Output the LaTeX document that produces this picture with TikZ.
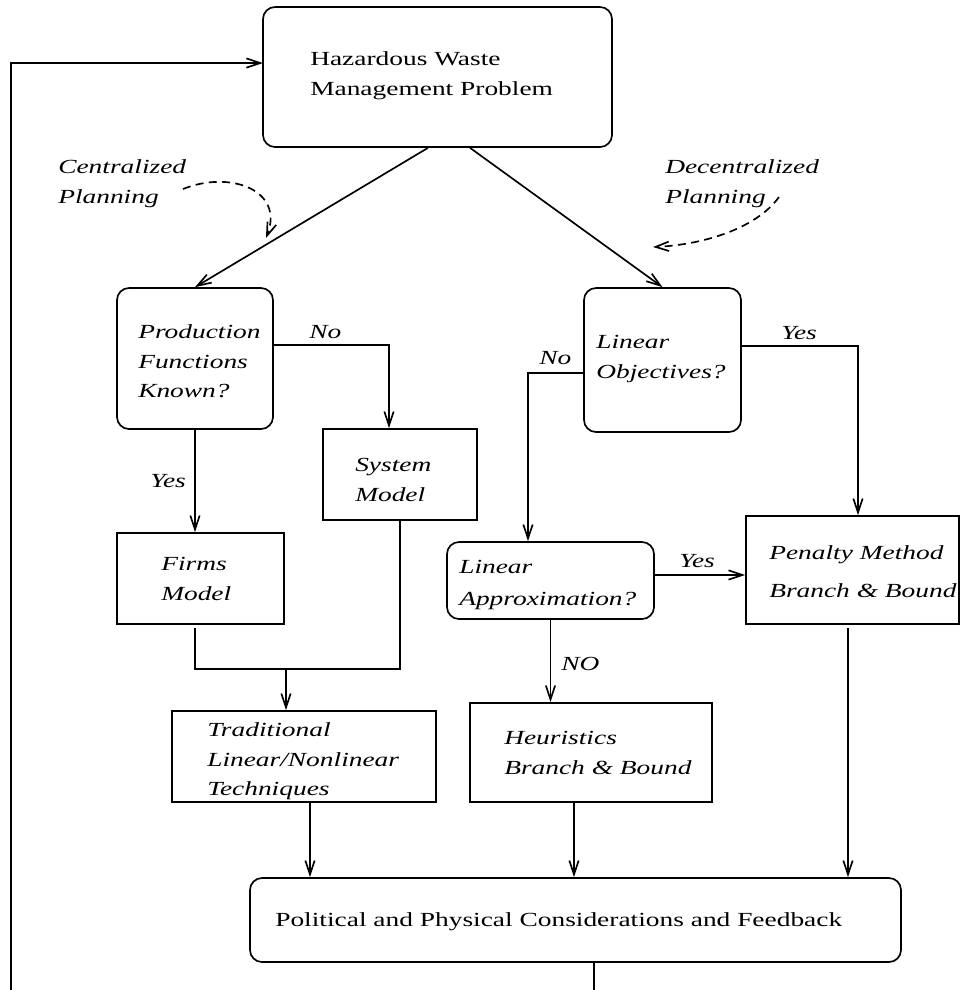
\documentclass[tikz,border=0pt]{standalone}
\usepackage{fontspec}
\setmainfont{Liberation Serif}[FakeStretch=1.37]
\usetikzlibrary{arrows.meta,calc,fit}
\begin{document}
\begin{tikzpicture}[x=0.75pt,y=-0.75pt,
  ln/.style={line width=1.25pt},
  arr/.style={ln,-{Straight Barb[length=10.5pt,width=7pt]}},
  darr/.style={ln,dash pattern=on 6pt off 4pt,-{Straight Barb[length=10pt,width=7pt]}},
  box/.style={draw,line width=1.25pt,inner sep=0pt},
  rbox/.style={box,rounded corners=9pt},
  txt/.style={anchor=base west,inner sep=0pt,font=\fontsize{15}{18}\selectfont},
  itxt/.style={txt,font=\fontsize{15}{18}\selectfont\itshape}]
\useasboundingbox (0,0) rectangle (961,990);
% boxes
\node[rbox,fit={(263,7)(612,147)}] (haz) {};
\node[rbox,fit={(117,288)(273,429)}] (prod) {};
\node[box,fit={(323,429)(477,520)}] (sys) {};
\node[box,fit={(117,533)(284,624)}] (firms) {};
\node[box,fit={(172,711)(436,802)}] (trad) {};
\node[rbox,fit={(584,288)(741,432)}] (lo) {};
\node[rbox,fit={(447,542)(654,619)}] (la) {};
\node[box,fit={(746,516)(959,624)}] (pen) {};
\node[box,fit={(470,703)(712,802)}] (heur) {};
\node[rbox,fit={(250,878)(901,962)}] (pol) {};
% texts
\node[txt] (h1) at (310,65) {Hazardous Waste};
\node[txt] (h2) at (310,95) {Management Problem};
\node[itxt] (c1) at (58,173) {Centralized};
\node[itxt] (c2) at (58,203) {Planning};
\node[itxt] (d1) at (665,173) {Decentralized};
\node[itxt] (d2) at (665,203) {Planning};
\node[itxt] (p1) at (138,338) {Production};
\node[itxt] (p2) at (138,368) {Functions};
\node[itxt] (p3) at (138,397) {Known?};
\node[itxt] (s1) at (355,471) {System};
\node[itxt] (s2) at (355,501) {Model};
\node[itxt] (f1) at (161,570) {Firms};
\node[itxt] (f2) at (161,600) {Model};
\node[itxt] (t1) at (207,736) {Traditional};
\node[itxt] (t2) at (207,766) {Linear/Nonlinear};
\node[itxt] (t3) at (207,795) {Techniques};
\node[itxt] (o1) at (596,348) {Linear};
\node[itxt] (o2) at (596,378) {Objectives?};
\node[itxt] (a1) at (459,573) {Linear};
\node[itxt] (a2) at (459,605) {Approximation?};
\node[itxt] (e1) at (769,559) {Penalty Method};
\node[itxt] (e2) at (769,597) {Branch \& Bound};
\node[itxt] (u1) at (504,744) {Heuristics};
\node[itxt] (u2) at (504,774) {Branch \& Bound};
\node[txt] (q1) at (275,926) {Political and Physical Considerations and Feedback};
% edge labels
\node[itxt] (lno1) at (309,338) {No};
\node[itxt] (lyes1) at (150,487) {Yes};
\node[itxt] (lyes2) at (781,339) {Yes};
\node[itxt] (lno2) at (539,364) {No};
\node[itxt] (lyes3) at (679,567) {Yes};
\node[itxt] (lno3) at (561,670) {NO};
% connectors
\draw[arr] ($(haz.south)+(-9.5,0)$) -- (prod.north);
\draw[arr] ($(haz.south)+(32.5,0)$) -- (lo.north);
\draw[darr] (183,189) .. controls (230,170) and (285,190) .. (266,238);
\draw[darr] (779,197) .. controls (755,230) and (700,245) .. (653,247);
\draw[arr] ($(prod.east)+(0,-13.5)$) -| ($(sys.north)+(-11,0)$);
\draw[arr] (prod.south) -- ($(firms.north)+(-5.5,0)$);
\coordinate (mj) at (286,669);
\draw[ln] (sys.south) |- (mj) -| ($(firms.south)+(-5.5,3)$);
\draw[arr] (mj) -- (mj |- trad.north);
\draw[arr] ($(trad.south)+(6,0)$) -- ($(pol.north)+(-265.5,0)$);
\draw[arr] ($(lo.east)+(0,-14)$) -| ($(pen.north)+(5.5,0)$);
\draw[arr] ($(lo.west)+(0,13)$) -| ($(la.north)+(-22.5,0)$);
\draw[arr] ($(la.east)+(0,-5.5)$) -- ($(pen.west)+(0,5)$);
\draw[arr] (la.south) -- ($(heur.north)+(-40.5,0)$);
\draw[arr] ($(heur.south)+(-17,0)$) -- ($(pol.north)+(-1.5,0)$);
\draw[arr] ($(pen.south)+(-4.5,3)$) -- ($(pol.north)+(272.5,0)$);
\begin{scope}
\clip (0,0) rectangle (961,990);
\coordinate (hin) at (263,63);
\draw[arr] ($(pol.south)+(18.5,0)$) -- ++(0,60) -| (11,63) -- (hin);
\end{scope}
\end{tikzpicture}
\end{document}
